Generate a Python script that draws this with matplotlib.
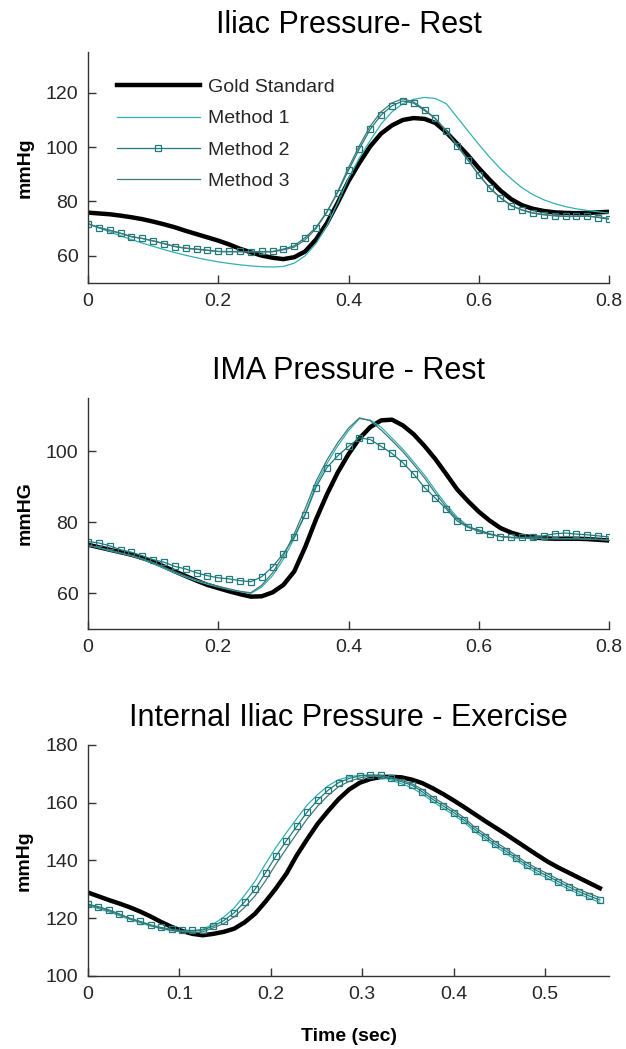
# Pressure waveforms: gold standard vs three estimation methods, three sites

import numpy as np
import matplotlib
matplotlib.use("Agg")
import matplotlib.pyplot as plt

plt.rcParams['font.family'] = ['Liberation Sans', 'DejaVu Sans']

# sample times (markers of Method 2 sit on every sample)
t_rest = np.linspace(0, 0.8, 49)
t_ex = np.linspace(0, 0.56, 50)

# Iliac pressure - rest (mmHg)
iliac_gold = [75.9, 75.6, 75.3, 74.8, 74.2, 73.5, 72.6, 71.6, 70.5, 69.2,
              68.0, 66.8, 65.6, 64.2, 62.6, 61.3, 60.1, 59.3, 58.8, 59.5,
              61.6, 66.0, 72.0, 79.5, 87.5, 94.2, 100.3, 105.0, 108.0, 110.0,
              110.7, 110.4, 108.9, 105.5, 101.3, 97.0, 92.3, 88.0, 84.0, 80.8,
              78.6, 77.3, 76.5, 76.0, 75.8, 75.7, 75.8, 76.0, 76.2]
iliac_m1 = [71.8, 70.3, 68.8, 67.4, 66.0, 64.7, 63.5, 62.3, 61.2, 60.2,
            59.3, 58.5, 57.8, 57.2, 56.7, 56.3, 56.0, 55.9, 56.1, 57.3,
            60.0, 64.5, 71.0, 79.5, 88.5, 96.0, 102.5, 108.5, 113.0, 116.0,
            117.6, 118.3, 117.9, 116.0, 111.0, 106.0, 101.0, 96.3, 92.0, 88.3,
            85.0, 82.5, 80.6, 79.2, 78.1, 77.3, 76.7, 76.2, 75.7]
iliac_m2 = [71.8, 70.4, 69.4, 68.3, 67.0, 66.4, 65.5, 64.5, 63.4, 62.8,
            62.5, 62.1, 61.6, 61.6, 61.6, 61.5, 61.6, 61.6, 62.5, 63.7,
            66.7, 70.4, 76.2, 83.3, 91.5, 99.4, 106.6, 111.8, 115.2, 117.0,
            116.2, 113.5, 110.6, 106.0, 100.5, 95.2, 89.8, 85.0, 81.3, 78.4,
            76.8, 75.7, 75.1, 74.7, 74.5, 74.5, 74.7, 74.1, 73.5]
iliac_m3 = [71.8, 70.4, 69.4, 68.3, 67.1, 66.4, 65.5, 64.5, 63.5, 62.8,
            62.4, 62.0, 61.6, 61.5, 61.5, 61.4, 61.4, 61.5, 62.2, 63.2,
            65.9, 70.0, 76.0, 83.6, 92.5, 100.5, 107.8, 113.0, 116.3, 117.8,
            116.6, 113.9, 110.4, 106.0, 100.9, 95.3, 89.9, 85.1, 81.4, 78.5,
            76.9, 75.8, 75.2, 74.8, 74.6, 74.5, 74.6, 74.3, 73.8]

# IMA pressure - rest (mmHg)
ima_gold = [73.7, 73.0, 72.3, 71.6, 70.9, 70.0, 68.9, 67.6, 66.2, 64.9,
            63.6, 62.4, 61.5, 60.6, 59.8, 59.1, 59.2, 60.3, 62.4, 66.2,
            73.0, 80.8, 87.8, 94.0, 99.2, 103.6, 106.8, 108.7, 108.9, 107.3,
            104.8, 101.5, 97.8, 93.6, 89.3, 86.0, 83.0, 80.5, 78.4, 77.1,
            76.2, 75.8, 75.5, 75.4, 75.4, 75.4, 75.3, 75.1, 74.9]
ima_m1 = [73.5, 72.8, 72.0, 71.3, 70.6, 69.6, 68.4, 67.1, 65.8, 64.6,
          63.5, 62.6, 61.8, 61.1, 60.5, 60.0, 61.8, 65.0, 69.6, 75.5,
          82.3, 90.5, 96.5, 101.5, 105.8, 109.2, 108.8, 106.8, 103.7, 100.6,
          97.0, 93.3, 89.0, 85.0, 81.5, 79.0, 77.6, 76.7, 76.0, 75.7,
          75.6, 75.6, 75.5, 75.4, 75.4, 75.4, 75.3, 75.2, 75.0]
ima_m2 = [74.6, 74.2, 73.4, 72.3, 71.6, 70.6, 69.5, 68.8, 67.6, 66.9,
          65.8, 65.0, 64.4, 64.1, 63.6, 63.3, 64.7, 67.5, 71.2, 75.9,
          82.1, 89.8, 95.4, 98.7, 101.4, 103.8, 103.3, 101.4, 99.4, 96.8,
          93.6, 89.8, 86.8, 83.8, 80.4, 78.6, 77.9, 76.8, 76.0, 75.8,
          75.8, 75.9, 76.2, 76.8, 77.0, 76.7, 76.5, 76.2, 75.9]
ima_m3 = [73.6, 72.9, 72.2, 71.4, 70.7, 69.8, 68.7, 67.4, 66.1, 64.9,
          63.8, 62.9, 62.0, 61.3, 60.6, 60.2, 62.3, 65.8, 70.6, 76.8,
          83.8, 91.5, 97.5, 102.4, 106.5, 109.4, 108.6, 106.0, 103.0, 99.9,
          96.3, 92.5, 88.2, 84.3, 81.0, 78.7, 77.4, 76.6, 76.0, 75.7,
          75.6, 75.6, 75.5, 75.4, 75.4, 75.4, 75.3, 75.2, 75.0]

# Internal iliac pressure - exercise (mmHg)
int_gold = [128.9, 127.6, 126.3, 125.1, 123.8, 122.3, 120.6, 118.7, 117.0, 115.6,
            114.6, 114.1, 114.6, 115.3, 116.4, 118.6, 121.6, 125.8, 130.4, 135.5,
            141.9, 147.5, 152.8, 157.2, 161.3, 164.6, 166.9, 168.2, 168.9, 169.0,
            168.8, 168.0, 166.8, 165.0, 163.0, 160.8, 158.5, 156.1, 153.7, 151.4,
            149.1, 146.7, 144.3, 141.9, 139.6, 137.6, 135.8, 134.0, 132.2, 130.4]
int_m1 = [124.3, 123.3, 122.2, 120.9, 119.6, 118.4, 117.3, 116.4, 115.7, 115.4,
          115.5, 116.2, 118.0, 120.4, 123.6, 128.0, 132.9, 138.9, 144.6, 149.7,
          154.6, 159.3, 162.9, 165.9, 168.0, 169.0, 169.5, 169.5, 169.0, 167.9,
          166.6, 165.2, 163.0, 160.4, 158.1, 155.8, 153.2, 150.0, 147.5, 144.8,
          142.5, 140.0, 137.6, 135.6, 133.8, 131.9, 130.1, 128.4, 126.9, 125.5]
int_m2 = [124.9, 124.0, 122.9, 121.5, 120.0, 118.9, 117.7, 116.8, 116.2, 115.8,
          115.8, 115.9, 117.3, 119.2, 121.9, 125.7, 130.1, 135.8, 141.6, 146.9,
          151.9, 156.9, 161.0, 164.4, 167.0, 168.4, 169.3, 169.6, 169.6, 168.4,
          167.3, 166.1, 163.8, 161.2, 158.9, 156.6, 154.0, 150.8, 148.3, 145.6,
          143.3, 140.8, 138.4, 136.4, 134.6, 132.7, 130.9, 129.2, 127.7, 126.3]
int_m3 = [124.6, 123.7, 122.6, 121.3, 119.9, 118.7, 117.5, 116.5, 115.8, 115.3,
          115.1, 115.3, 116.7, 118.2, 120.5, 123.8, 127.8, 133.0, 138.8, 144.2,
          149.4, 154.5, 158.9, 162.6, 165.6, 167.4, 168.6, 169.2, 169.4, 168.8,
          167.8, 166.6, 164.6, 162.0, 159.7, 157.4, 154.8, 151.6, 149.1, 146.4,
          144.1, 141.6, 139.2, 137.2, 135.4, 133.5, 131.7, 130.0, 128.5, 127.1]

titles = ["Iliac Pressure- Rest", "IMA Pressure - Rest", "Internal Iliac Pressure - Exercise"]
ylabels = ["mmHg", "mmHG", "mmHg"]
labels = ["Gold Standard", "Method 1", "Method 2", "Method 3"]

c_gold = "black"
c_m1 = "#33b0b0"
c_m2 = "#1f7b7b"
c_m3 = "#447878"
text_c = "#262626"

fig = plt.figure(figsize=(6.26, 10.49), dpi=100)
ax1 = fig.add_axes([0.1406, 0.7302, 0.8323, 0.2202])
ax2 = fig.add_axes([0.1406, 0.4004, 0.8323, 0.2202])
ax3 = fig.add_axes([0.1406, 0.0696, 0.8323, 0.2202])

panels = [
    (ax1, t_rest, iliac_gold, iliac_m1, iliac_m2, iliac_m3),
    (ax2, t_rest, ima_gold, ima_m1, ima_m2, ima_m3),
    (ax3, t_ex, int_gold, int_m1, int_m2, int_m3),
]

for i, (ax, t, g, m1, m2, m3) in enumerate(panels):
    ax.plot(t, g, color=c_gold, lw=3.2, label=labels[0])
    ax.plot(t, m1, color=c_m1, lw=0.9, label=labels[1])
    ax.plot(t, m2, color=c_m2, lw=0.9, marker='s', ms=4.5, mfc='none',
            mec=c_m2, mew=0.9, label=labels[2])
    ax.plot(t, m3, color=c_m3, lw=0.9, label=labels[3])

    ax.set_title(titles[i], fontsize=22, pad=14, color='black')
    ax.set_ylabel(ylabels[i], fontsize=14, fontweight='bold', labelpad=9)
    for side in ['top', 'right']:
        ax.spines[side].set_visible(False)
    for side in ['left', 'bottom']:
        ax.spines[side].set_color('#333333')
        ax.spines[side].set_linewidth(1.0)
    ax.tick_params(direction='in', length=6, width=1, colors='#333333',
                   labelsize=14, labelcolor=text_c, pad=7)

ax1.set_xlim(0, 0.8)
ax1.set_ylim(50, 135)
ax1.set_yticks([60, 80, 100, 120])
ax2.set_xlim(0, 0.8)
ax2.set_ylim(50, 115)
ax2.set_yticks([60, 80, 100])
for ax in (ax1, ax2):
    ax.set_xticks([0, 0.2, 0.4, 0.6, 0.8])
    ax.set_xticklabels(["0", "0.2", "0.4", "0.6", "0.8"])

ax3.set_xlim(0, 0.57)
ax3.set_ylim(100, 180)
ax3.set_yticks([100, 120, 140, 160, 180])
ax3.set_xticks([0, 0.1, 0.2, 0.3, 0.4, 0.5])
ax3.set_xticklabels(["0", "0.1", "0.2", "0.3", "0.4", "0.5"])
ax3.set_xlabel("Time (sec)", fontsize=14, fontweight='bold', labelpad=18)

leg = ax1.legend(loc='upper left', bbox_to_anchor=(0.055, 0.885), frameon=False,
                 fontsize=14, handlelength=4.3, handletextpad=0.4,
                 labelspacing=0.7, borderpad=0, borderaxespad=0)
for txt in leg.get_texts():
    txt.set_color(text_c)

fig.savefig("out.png", dpi=100)
